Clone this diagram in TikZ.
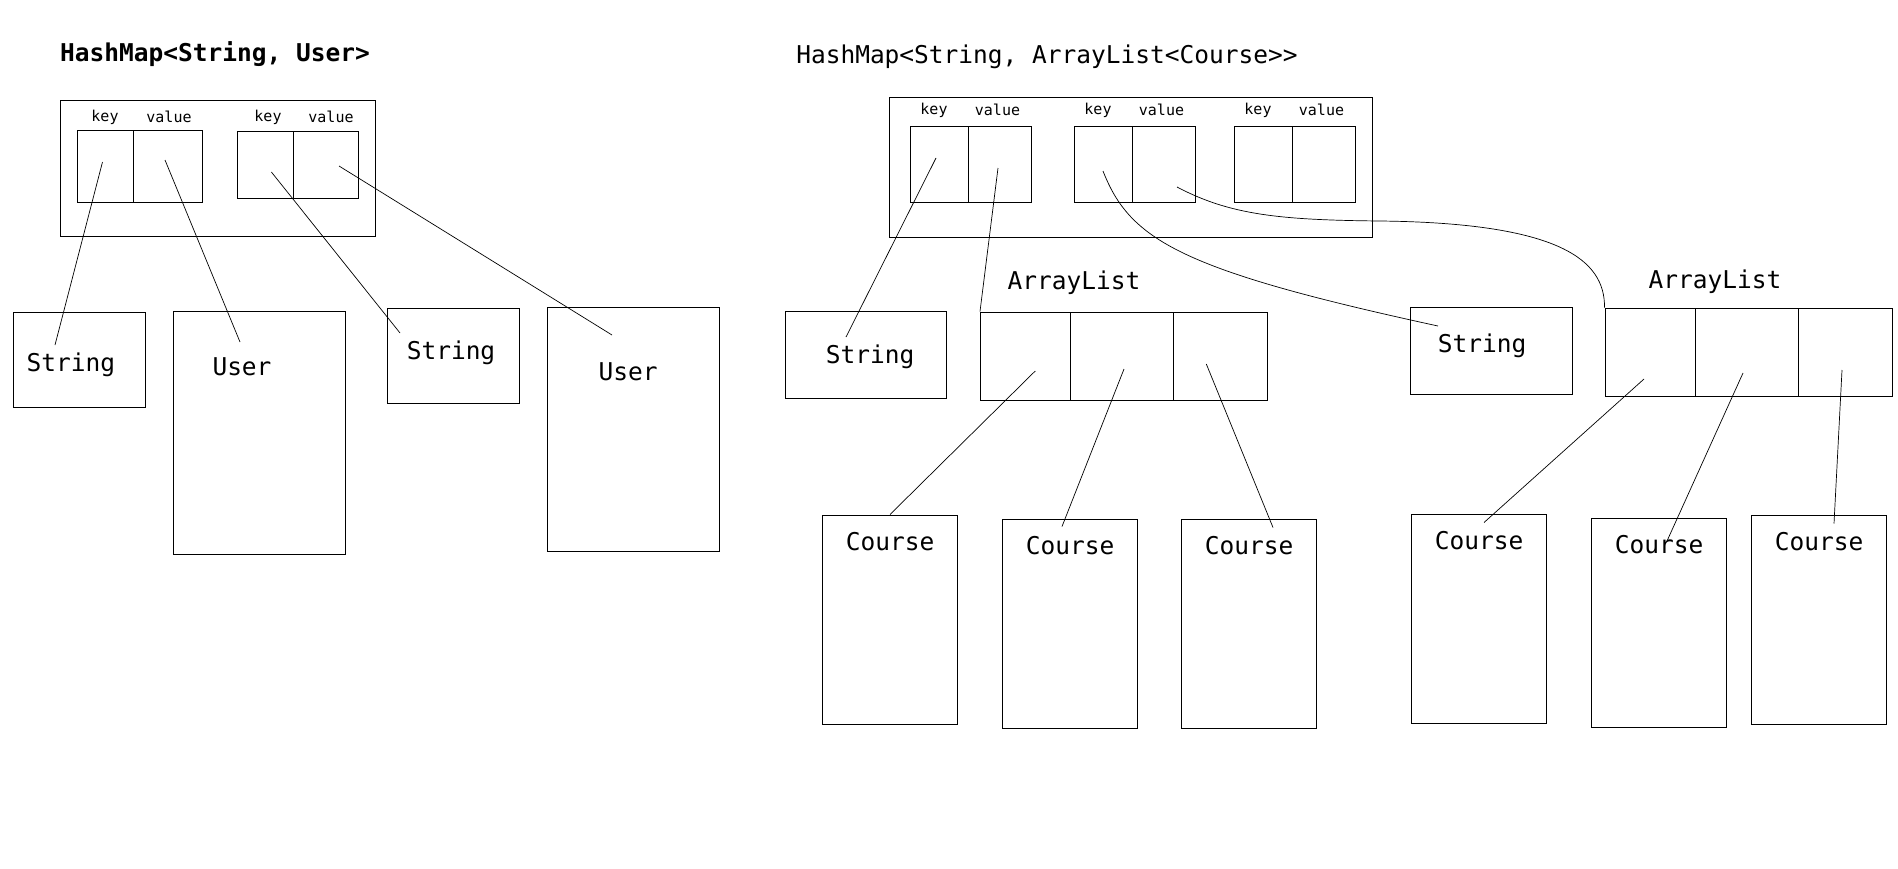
\documentclass[tikz,border=0pt]{standalone}
\usepackage{fontspec}
\setmainfont{DejaVu Sans Mono}

\tikzset{
  box/.style={draw, line width=1pt, inner sep=0pt},
  link/.style={line width=0.7pt},
  lbl/.style={font=\fontsize{24.5}{28}\selectfont, inner sep=0pt},
  tag/.style={font=\fontsize{15}{18}\selectfont, inner sep=0pt},
}

\begin{document}
\begin{tikzpicture}[x=1pt, y=-1pt]

    % Page size (one unit = one pixel, y pointing down)
    \useasboundingbox (0,0) rectangle (1898,868);

    % ---------- HashMap<String, User> ----------
    \node[lbl, font=\fontsize{24.5}{28}\selectfont\bfseries] (title1) at (215,54) {HashMap<String, User>};
    \node[box, minimum width=315pt, minimum height=136pt] (map1) at (218,168) {};

    % Entries
    \node[box, minimum width=56pt, minimum height=72pt] (k1) at (105.5,166) {};
    \node[box, minimum width=69pt, minimum height=72pt] (v1) at (168,166) {};
    \node[box, minimum width=56pt, minimum height=67pt] (k2) at (265.4,164.5) {};
    \node[box, minimum width=65pt, minimum height=67pt] (v2) at (326,164.5) {};
    \node[tag] (kt1) at (105,117) {key};
    \node[tag] (vt1) at (169,117) {value};
    \node[tag] (kt2) at (268,117) {key};
    \node[tag] (vt2) at (331,117) {value};

    % Objects
    \node[box, minimum width=132pt, minimum height=95pt] (s1) at (79.5,359.5) {};
    \node[lbl] (s1t) at (71,365) {String};
    \node[box, minimum width=172pt, minimum height=243pt] (u1) at (259.5,432.5) {};
    \node[lbl] (u1t) at (242,367) {User};
    \node[box, minimum width=132pt, minimum height=95pt] (s2) at (453.7,355.5) {};
    \node[lbl] (s2t) at (451,353) {String};
    \node[box, minimum width=172pt, minimum height=244pt] (u2) at (633.5,429) {};
    \node[lbl] (u2t) at (628,372) {User};

    % References
    \draw[link] ([shift={(-3,-4)}]k1.center) -- ([shift={(-16,-20)}]s1t.center);
    \draw[link] ([shift={(-3,-6)}]v1.center) -- ([shift={(-2,-25)}]u1t.center);
    \draw[link] ([shift={(6,7.5)}]k2.center) -- ([shift={(-51,-20)}]s2t.center);
    \draw[link] ([shift={(13,1.5)}]v2.center) -- ([shift={(-16,-37)}]u2t.center);

    % ---------- HashMap<String, ArrayList<Course>> ----------
    \node[lbl] (title2) at (1047,57) {HashMap<String, ArrayList<Course>{}>};
    \node[box, minimum width=483pt, minimum height=140pt] (map2) at (1130.5,167) {};

    % Entries
    \foreach \n/\x in {A/939, B/1103, C/1263} {
        \node[box, minimum width=58pt, minimum height=76pt] (k\n) at (\x,164) {};
        \node[box, minimum width=63pt, minimum height=76pt] (v\n) at (\x+60.5,164) {};
        \node[tag] (kt\n) at (\x-5,110) {key};
        \node[tag] (vt\n) at (\x+58.5,110) {value};
    }

    % Keys
    \node[box, minimum width=161pt, minimum height=87pt] (strL) at (865.5,354.5) {};
    \node[lbl] (strLt) at (870,357) {String};
    \node[box, minimum width=162pt, minimum height=87pt] (strR) at (1491,350.5) {};
    \node[lbl] (strRt) at (1482,346) {String};

    % Lists
    \node[lbl] (alLt) at (1074,283) {ArrayList};
    \node[box, minimum width=89.5pt, minimum height=88pt] (aL1) at (1025.25,356) {};
    \node[box, minimum width=103pt, minimum height=88pt] (aL2) at (1121.5,356) {};
    \node[box, minimum width=94.6pt, minimum height=88pt] (aL3) at (1220.3,356) {};
    \node[lbl] (alRt) at (1715,282) {ArrayList};
    \node[box, minimum width=90pt, minimum height=88pt] (aR1) at (1650,352) {};
    \node[box, minimum width=103pt, minimum height=88pt] (aR2) at (1746.5,352) {};
    \node[box, minimum width=94pt, minimum height=88pt] (aR3) at (1845,352) {};

    % Courses
    \foreach \n/\x/\y in {L1/890/619.5, L2/1070/623.5, L3/1249/623.5, R1/1479/618.5, R2/1659/623, R3/1819/619.5} {
        \node[box, minimum width=135pt, minimum height=209pt] (c\n) at (\x,\y) {};
        \node[lbl] (ct\n) at (\x,\y-78) {Course};
    }

    % References
    \draw[link] ([shift={(-3,-6)}]kA.center) -- ([shift={(-24,-20)}]strLt.center);
    \draw[link] ([shift={(-1.5,4)}]vA.center) -- (aL1.north west);
    \draw[link] ([shift={(0,7)}]kB.center) .. controls (1130,240) and (1180,270) .. ([shift={(-44,-20)}]strRt.center);
    \draw[link] ([shift={(13.5,23)}]vB.center) .. controls (1230,215) and (1280,220) .. (1380,221)
        .. controls (1560,223) and (1605,260) .. (aR1.north west);

    \draw[link] ([shift={(10,15)}]aL1.center) -- (cL1.north);
    \draw[link] ([shift={(2.5,13)}]aL2.center) -- ([shift={(-8,-19)}]ctL2.center);
    \draw[link] ([shift={(-14,8)}]aL3.center) -- ([shift={(24,-18)}]ctL3.center);
    \draw[link] ([shift={(-6,27)}]aR1.center) -- ([shift={(5,-18)}]ctR1.center);
    \draw[link] ([shift={(-3.5,21)}]aR2.center) -- ([shift={(8,-4)}]ctR2.center);
    \draw[link] ([shift={(-3,18)}]aR3.center) -- ([shift={(15,-18)}]ctR3.center);

\end{tikzpicture}
\end{document}
